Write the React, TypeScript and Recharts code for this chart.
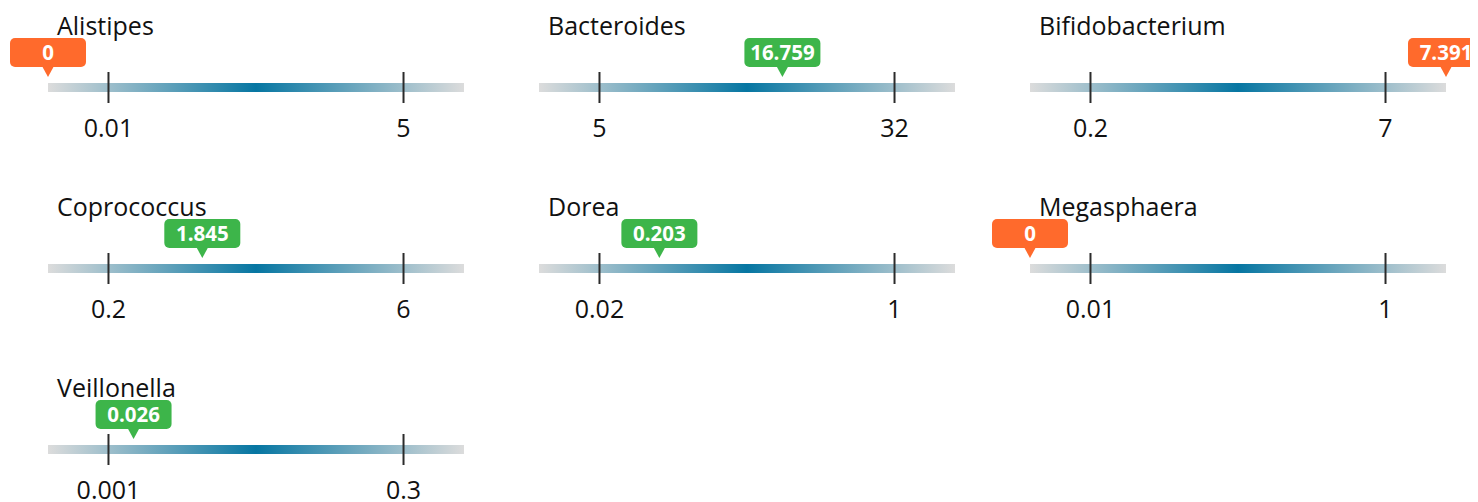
import React from 'react';
import { ComposedChart, XAxis, YAxis, ReferenceArea, ReferenceLine, Scatter } from 'recharts';

// ---- data ----
const genera = ['Alistipes', 'Bacteroides', 'Bifidobacterium', 'Coprococcus', 'Dorea', 'Megasphaera', 'Veillonella'];
const lowTickLabels = ['0.01', '5', '0.2', '0.2', '0.02', '0.01', '0.001'];
const highTickLabels = ['5', '32', '7', '6', '1', '1', '0.3'];
const valueLabels = ['0', '16.759', '7.391', '1.845', '0.203', '0', '0.026'];
// marker position on the normalized scale (low tick = 0, high tick = 1)
const markerPositions = [-0.205, 0.62, 1.205, 0.318, 0.203, -0.205, 0.085];
const inRange = [false, true, false, true, true, false, true];
const trackDomain: [number, number] = [-0.205, 1.205];
const tickPositions = [0, 1];

// ---- style ----
const PANEL_W = 491;
const PANEL_H = 181;
const PLOT_H = 110;
const TRACK_BOTTOM = 26;
const TRACK_TOP = 35;
const FONT = '"Open Sans", "Noto Sans", sans-serif';
const GREEN = '#3db54a';
const ORANGE = '#ff6a2c';

function Callout(props: any) {
  const { cx, cy, label, color } = props;
  const tipY = cy - 6;
  const baseY = tipY - 10;
  const w = 76;
  const h = 29;
  const left = cx - w / 2;
  const top = baseY - h;
  return (
    <g>
      <rect x={left} y={top} width={w} height={h} rx={5} ry={5} fill={color} />
      <path d={`M${cx - 6},${baseY - 1} L${cx + 6},${baseY - 1} L${cx},${tipY} Z`} fill={color} />
      <text
        x={cx}
        y={top + h / 2}
        dy={7.5}
        textAnchor="middle"
        fill="#ffffff"
        fontFamily={FONT}
        fontWeight={700}
        fontSize={20.5}
      >
        {label}
      </text>
    </g>
  );
}

function Panel({ i }: { i: number }) {
  const markerData = [{ x: markerPositions[i], y: TRACK_TOP }];
  const labels = [lowTickLabels[i], highTickLabels[i]];
  const gid = `grad-${i}`;
  const TickLabel = (p: any) => {
    const idx = tickPositions.indexOf(p.payload.value);
    return (
      <text x={p.x} y={p.y} dy={19} textAnchor="middle" fill="#111" fontFamily={FONT} fontSize={25}>
        {labels[idx]}
      </text>
    );
  };
  return (
    <div style={{ position: 'relative', width: PANEL_W, height: PANEL_H }}>
      <div
        style={{
          position: 'absolute',
          left: 49,
          top: 0,
          fontFamily: FONT,
          fontSize: 25,
          lineHeight: '34px',
          color: '#111',
          whiteSpace: 'nowrap',
        }}
      >
        {genera[i]}
      </div>
      <div style={{ position: 'absolute', left: 0, top: 0 }}>
        <ComposedChart
          width={PANEL_W}
          height={PANEL_H}
          data={markerData}
          margin={{ top: 0, right: 35, bottom: 0, left: 40 }}
        >
          <defs>
            <linearGradient id={gid} x1="0" y1="0" x2="1" y2="0">
              <stop offset="0%" stopColor="#dcdcdc" />
              <stop offset="50%" stopColor="#0676a2" />
              <stop offset="100%" stopColor="#dcdcdc" />
            </linearGradient>
          </defs>
          <XAxis
            type="number"
            dataKey="x"
            domain={trackDomain}
            ticks={tickPositions}
            axisLine={false}
            tickLine={false}
            tickSize={0}
            tickMargin={0}
            height={PANEL_H - PLOT_H}
            tick={<TickLabel />}
            interval={0}
          />
          <YAxis type="number" dataKey="y" domain={[0, PLOT_H]} hide />
          <ReferenceArea
            x1={trackDomain[0]}
            x2={trackDomain[1]}
            y1={TRACK_BOTTOM}
            y2={TRACK_TOP}
            fill={`url(#${gid})`}
            fillOpacity={1}
            stroke="none"
            ifOverflow="visible"
          />
          {tickPositions.map((t) => (
            <ReferenceLine
              key={t}
              segment={[
                { x: t, y: 15 },
                { x: t, y: 46 },
              ]}
              stroke="#2b2b2b"
              strokeWidth={2}
              ifOverflow="visible"
            />
          ))}
          <Scatter
            dataKey="y"
            isAnimationActive={false}
            shape={(p: any) => (
              <Callout cx={p.cx} cy={p.cy} label={valueLabels[i]} color={inRange[i] ? GREEN : ORANGE} />
            )}
          />
        </ComposedChart>
      </div>
    </div>
  );
}

export default function App() {
  return (
    <div style={{ position: 'relative', width: 1466, height: 494, overflow: 'hidden', background: '#fff' }}>
      {genera.map((g, i) => (
        <div
          key={g}
          style={{
            position: 'absolute',
            left: (i % 3) * PANEL_W,
            top: Math.floor(i / 3) * PANEL_H,
          }}
        >
          <Panel i={i} />
        </div>
      ))}
    </div>
  );
}
